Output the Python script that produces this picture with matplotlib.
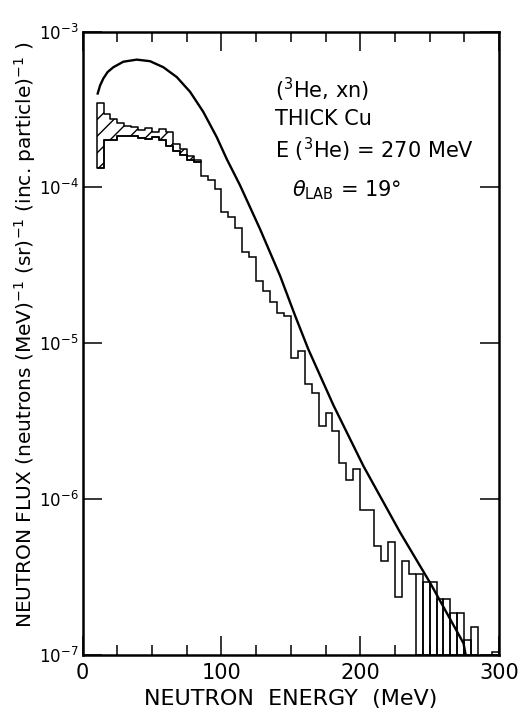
import numpy as np
import matplotlib
matplotlib.use("Agg")
import matplotlib.pyplot as plt
from matplotlib.ticker import FixedLocator, LogLocator, NullLocator

# ---------------- data ----------------
bin_width = 5.0
bin_edges = np.arange(10, 305, 5)  # 10 ... 300 MeV

# measured spectrum (lower histogram), one value per 5 MeV bin; nan = no entry
flux_hist = [
    1.33e-4, 2.00e-4, 2.00e-4, 2.14e-4, 2.14e-4, 2.13e-4, 2.08e-4, 2.05e-4,
    2.11e-4, 2.00e-4, 1.85e-4, 1.72e-4, 1.62e-4, 1.50e-4, 1.45e-4,
    1.19e-4, 1.11e-4, 9.78e-5, 6.92e-5, 6.42e-5, 5.47e-5, 3.83e-5, 3.56e-5,
    2.52e-5, 2.17e-5, 1.83e-5, 1.57e-5, 1.50e-5, 8.10e-6, 8.92e-6, 5.51e-6,
    4.82e-6, 2.94e-6, 3.55e-6, 2.73e-6, 1.71e-6, 1.33e-6, 1.56e-6, 8.47e-7,
    8.47e-7, 4.97e-7, 4.03e-7, 5.31e-7, 2.37e-7, 4.03e-7, 3.32e-7,
    3.32e-7, 2.96e-7, 2.96e-7, 2.29e-7, 2.29e-7, 1.86e-7, 1.86e-7, 1.24e-7,
    1.52e-7, np.nan, np.nan, 1.05e-7,
]

# upper histogram bounding the hatched band (10 - 85 MeV)
flux_upper = [
    3.49e-4, 2.97e-4, 2.76e-4, 2.60e-4, 2.48e-4, 2.43e-4, 2.32e-4, 2.41e-4,
    2.26e-4, 2.38e-4, 2.26e-4, 1.90e-4, 1.75e-4, 1.60e-4, 1.50e-4,
]

# bins drawn as open bars down to the axis (upper limits)
bar_start = 240.0

# calculated curve
curve_energy = [10.8, 12.5, 14.9, 18.0, 22.1, 29.3, 38.9, 48.5, 58.1, 67.8,
                77.4, 86.9, 96.6, 103.8, 113.4, 127.8, 142.3, 153.1, 162.7,
                180.7, 202.3, 228.8, 250.4, 274.4, 276.0]
curve_flux = [4.0e-4, 4.5e-4, 5.0e-4, 5.5e-4, 5.9e-4, 6.4e-4, 6.6e-4, 6.45e-4,
              5.9e-4, 5.1e-4, 4.1e-4, 3.05e-4, 2.1e-4, 1.52e-4, 1.03e-4,
              5.4e-5, 2.7e-5, 1.5e-5, 9.1e-6, 4.0e-6, 1.63e-6, 6.1e-7,
              2.9e-7, 1.19e-7, 1.0e-7]

x_ticks = [0, 100, 200, 300]
y_min, y_max = 1e-7, 1e-3

# ---------------- figure ----------------
plt.rcParams['font.family'] = ['DejaVu Sans']
plt.rcParams['mathtext.fontset'] = 'dejavusans'
plt.rcParams['hatch.linewidth'] = 1.0

fig = plt.figure(figsize=(5.24, 7.18), dpi=100)
ax = fig.add_axes([82.7 / 524, 63 / 718, 416.3 / 524, 623.5 / 718])

flux_hist = np.array(flux_hist, dtype=float)
left_edges = bin_edges[:-1]

# stepped part of the spectrum (below bar_start)
step_mask = left_edges < bar_start
n_step = int(step_mask.sum())
ax.stairs(flux_hist[:n_step], bin_edges[:n_step + 1], baseline=None,
          color='black', linewidth=1.1)

# hatched band between upper and lower histograms
n_up = len(flux_upper)
up_edges = bin_edges[:n_up + 1]
up_vals = np.append(flux_upper, flux_upper[-1])
lo_vals = np.append(flux_hist[:n_up], flux_hist[n_up - 1])
ax.fill_between(up_edges, lo_vals, up_vals, step='post', facecolor='none',
                edgecolor='black', hatch='//', linewidth=1.1)

# open bars for the high-energy bins
bar_mask = (left_edges >= bar_start) & ~np.isnan(flux_hist)
ax.bar(left_edges[bar_mask], flux_hist[bar_mask] - y_min, width=bin_width,
       bottom=y_min, align='edge', fill=False, edgecolor='black',
       linewidth=1.1)

# calculation
ax.plot(curve_energy, curve_flux, color='black', linewidth=1.7)

# axes
ax.set_yscale('log')
ax.set_xlim(0, 300)
ax.set_ylim(y_min, y_max)
ax.xaxis.set_major_locator(FixedLocator(x_ticks))
ax.xaxis.set_minor_locator(FixedLocator(np.arange(0, 301, 25)))
ax.yaxis.set_major_locator(LogLocator(base=10, numticks=10))
ax.yaxis.set_minor_locator(NullLocator())
ax.tick_params(which='both', direction='in', top=True, right=True, width=1.1)
ax.tick_params(axis='x', which='major', labelsize=15, pad=6)
ax.tick_params(axis='y', which='major', labelsize=12, pad=3)
ax.tick_params(which='major', length=14)
ax.tick_params(which='minor', length=7)
for s in ax.spines.values():
    s.set_linewidth(1.8)

ax.set_xlabel('NEUTRON  ENERGY  (MeV)', fontsize=16, labelpad=4)
ax.set_ylabel(r'NEUTRON FLUX (neutrons (MeV)$^{-1}$ (sr)$^{-1}$ (inc. particle)$^{-1}$ )',
              fontsize=14.5)
ax.yaxis.set_label_coords(-0.108, 0.513)

tk = dict(transform=ax.transAxes, fontsize=15, va='baseline', ha='left')
ax.text(0.462, 0.893, r'($^{3}$He, xn)', **tk)
ax.text(0.462, 0.850, 'THICK Cu', **tk)
ax.text(0.462, 0.797, r'E ($^{3}$He) = 270 MeV', **tk)
ax.text(0.503, 0.735, r'$\theta_{\mathrm{LAB}}$ = 19°', **tk)

fig.savefig('out.png', dpi=100)
